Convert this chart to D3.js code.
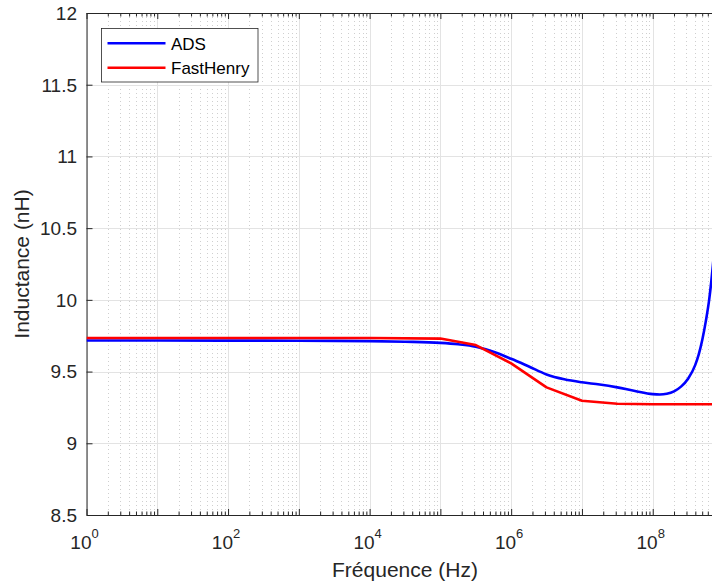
<!DOCTYPE html>
<html>
<head>
<meta charset="utf-8">
<script src="https://cdn.jsdelivr.net/npm/d3@7"></script>
<style>
  html, body { margin: 0; padding: 0; background: #fff; overflow: hidden; }
  svg { display: block; font-family: "Liberation Sans", Arial, Helvetica, sans-serif; }
</style>
</head>
<body>
<svg id="chart" width="712" height="583"></svg>
<script>
// ---- data ----
const seriesNames = ["ADS", "FastHenry"];
const seriesColors = ["#0000ff", "#ff0000"];

const adsFreq = [1, 10, 1e2, 1e3, 1e4, 3.16e4, 1e5, 1.78e5, 3.16e5, 5.62e5, 1e6, 1.78e6, 3.16e6, 5.62e6,
  1e7, 1.78e7, 3.16e7, 5.62e7, 1e8, 1.26e8, 1.58e8, 2e8, 2.51e8, 3.16e8, 3.98e8, 4.47e8, 5.01e8, 5.62e8, 6.31e8, 7.08e8, 7.94e8, 1e9];
const adsL = [9.717, 9.717, 9.716, 9.715, 9.712, 9.708, 9.700, 9.690, 9.673, 9.638, 9.589, 9.535, 9.480, 9.446,
  9.425, 9.410, 9.390, 9.365, 9.343, 9.340, 9.345, 9.362, 9.395, 9.450, 9.545, 9.620, 9.720, 9.850, 10.01, 10.24, 10.55, 11.30];

const fhFreq = [1, 10, 1e2, 1e3, 1e4, 1e5, 3.16e5, 1e6, 3.16e6, 1e7, 3.16e7, 1e8, 3.16e8, 1e9];
const fhL = [9.734, 9.734, 9.734, 9.734, 9.734, 9.730, 9.685, 9.557, 9.390, 9.297, 9.276, 9.272, 9.272, 9.272];

const xLabelExps = [0, 2, 4, 6, 8];
const yTicks = [8.5, 9, 9.5, 10, 10.5, 11, 11.5, 12];
const xTitle = "Fréquence (Hz)";
const yTitle = "Inductance (nH)";

// ---- layout ----
const svg = d3.select("#chart");
const L = 86.5, R = 723.5, T = 13, B = 515;
const ink = "#262626";

const x = d3.scaleLog().domain([1, 1e9]).range([L, R]);
const y = d3.scaleLinear().domain([8.5, 12]).range([B, T]);

const xMajor = d3.range(0, 10).map(e => Math.pow(10, e));
const xMinor = [];
for (let d = 0; d < 9; d++) for (let k = 2; k <= 9; k++) xMinor.push(k * Math.pow(10, d));

const g = svg.append("g");

// minor grid (vertical, dotted)
g.append("g").selectAll("line").data(xMinor).join("line")
  .attr("x1", d => Math.round(x(d)) + 0.5).attr("x2", d => Math.round(x(d)) + 0.5)
  .attr("y1", T).attr("y2", B)
  .attr("stroke", "#cfcfcf").attr("stroke-width", 1).attr("stroke-dasharray", "1,3");

// major grid
g.append("g").selectAll("line").data(xMajor).join("line")
  .attr("x1", d => Math.round(x(d)) + 0.5).attr("x2", d => Math.round(x(d)) + 0.5)
  .attr("y1", T).attr("y2", B)
  .attr("stroke", "#e3e3e3").attr("stroke-width", 1);
g.append("g").selectAll("line").data(yTicks).join("line")
  .attr("x1", L).attr("x2", R)
  .attr("y1", d => Math.round(y(d)) + 0.5).attr("y2", d => Math.round(y(d)) + 0.5)
  .attr("stroke", "#e3e3e3").attr("stroke-width", 1);

// axes (inward ticks)
function styleAxis(sel) {
  sel.select(".domain").attr("stroke", ink);
  sel.selectAll(".tick line").attr("stroke", ink);
  sel.selectAll(".tick text").remove();
}
svg.append("g").attr("transform", `translate(0,${B})`)
  .call(d3.axisBottom(x).tickValues(xMajor).tickSize(-6).tickSizeOuter(0).tickFormat(""))
  .call(styleAxis);
svg.append("g").attr("transform", `translate(0,${B})`)
  .call(d3.axisBottom(x).tickValues(xMinor).tickSize(-3.5).tickSizeOuter(0).tickFormat(""))
  .call(styleAxis);
svg.append("g").attr("transform", `translate(0,${T})`)
  .call(d3.axisTop(x).tickValues(xMajor).tickSize(-6).tickSizeOuter(0).tickFormat(""))
  .call(styleAxis);
svg.append("g").attr("transform", `translate(0,${T})`)
  .call(d3.axisTop(x).tickValues(xMinor).tickSize(-3.5).tickSizeOuter(0).tickFormat(""))
  .call(styleAxis);
svg.append("g").attr("transform", `translate(${L},0)`)
  .call(d3.axisLeft(y).tickValues(yTicks).tickSize(-6).tickSizeOuter(0).tickFormat(""))
  .call(styleAxis);
svg.append("g").attr("transform", `translate(${R},0)`)
  .call(d3.axisRight(y).tickValues(yTicks).tickSize(-6).tickSizeOuter(0).tickFormat(""))
  .call(styleAxis);

// tick labels
const xl = svg.append("g").attr("fill", ink).attr("font-size", 19);
xLabelExps.forEach(e => {
  const t = xl.append("text").attr("x", x(Math.pow(10, e)) - 2).attr("y", 549).attr("text-anchor", "middle");
  t.append("tspan").text("10");
  t.append("tspan").attr("dy", -11.5).attr("font-size", 13).text(String(e));
});
svg.append("g").attr("fill", ink).attr("font-size", 19)
  .selectAll("text").data(yTicks).join("text")
  .attr("x", 77).attr("y", d => y(d)).attr("dy", "0.36em").attr("text-anchor", "end")
  .text(d => String(d));

// titles
svg.append("text").attr("x", (L + R) / 2).attr("y", 577).attr("text-anchor", "middle")
  .attr("fill", ink).attr("font-size", 21).text(xTitle);
svg.append("text").attr("transform", `translate(29,${(T + B) / 2}) rotate(-90)`).attr("text-anchor", "middle")
  .attr("fill", ink).attr("font-size", 21).text(yTitle);

// lines
svg.append("clipPath").attr("id", "plotclip").append("rect")
  .attr("x", L).attr("y", T).attr("width", R - L).attr("height", B - T);
const lines = svg.append("g").attr("clip-path", "url(#plotclip)");
const series = [
  { name: seriesNames[0], f: adsFreq, v: adsL, curve: d3.curveMonotoneX },
  { name: seriesNames[1], f: fhFreq, v: fhL, curve: d3.curveLinear }
];
series.forEach((s, i) => {
  const pts = s.f.map((f, j) => [f, s.v[j]]);
  lines.append("path").datum(pts)
    .attr("fill", "none").attr("stroke", seriesColors[i]).attr("stroke-width", 2.6)
    .attr("stroke-linejoin", "round")
    .attr("d", d3.line().x(d => x(d[0])).y(d => y(d[1])).curve(s.curve));
});

// legend
const lg = svg.append("g");
lg.append("rect").attr("x", 101.5).attr("y", 28.5).attr("width", 156.5).attr("height", 53.5)
  .attr("fill", "#fff").attr("stroke", ink).attr("stroke-width", 0.8);
seriesNames.forEach((n, i) => {
  const cy = 43.3 + i * 24.5;
  lg.append("line").attr("x1", 107.5).attr("x2", 165.5).attr("y1", cy).attr("y2", cy)
    .attr("stroke", seriesColors[i]).attr("stroke-width", 2.6);
  lg.append("text").attr("x", 171).attr("y", cy + 6.5).attr("fill", "#000").attr("font-size", 17).text(n);
});
</script>
</body>
</html>
